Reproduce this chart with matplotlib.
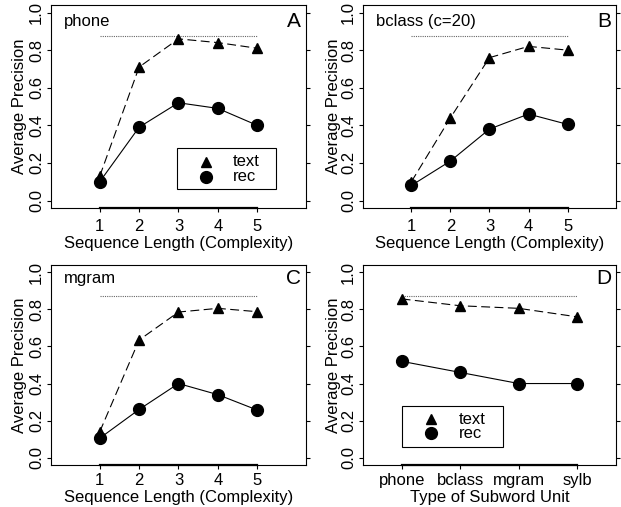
import numpy as np
import matplotlib.pyplot as plt
from matplotlib.lines import Line2D
from matplotlib.patches import Rectangle

plt.rcParams['font.family'] = ['Liberation Sans', 'DejaVu Sans']

seq_len = [1, 2, 3, 4, 5]

# panel A: phone
phone_text = [0.13, 0.71, 0.86, 0.84, 0.81]
phone_rec = [0.10, 0.39, 0.52, 0.49, 0.40]

# panel B: bclass (c=20)
bclass_text = [0.10, 0.44, 0.76, 0.82, 0.80]
bclass_rec = [0.08, 0.21, 0.38, 0.46, 0.405]

# panel C: mgram
mgram_text = [0.14, 0.635, 0.786, 0.806, 0.788]
mgram_rec = [0.105, 0.26, 0.40, 0.34, 0.257]

# panel D: best per subword unit
units = ['phone', 'bclass', 'mgram', 'sylb']
unit_text = [0.857, 0.82, 0.806, 0.76]
unit_rec = [0.52, 0.46, 0.40, 0.40]

ref_level = 0.873
yticks = [0.0, 0.2, 0.4, 0.6, 0.8, 1.0]
FS = 12


def style_axes(ax, xt, xlabels, xlabel, xpad, lpad, ylab_x):
    ax.set_ylim(-0.04, 1.04)
    ax.set_yticks(yticks)
    ax.set_yticklabels(['%.1f' % v for v in yticks], rotation=90, va='center', fontsize=FS)
    ax.set_xticks(xt)
    ax.set_xticklabels(xlabels, fontsize=FS)
    ax.tick_params(axis='both', direction='out', length=3, width=0.8,
                   right=True, labelright=False)
    ax.tick_params(axis='y', pad=2)
    ax.tick_params(axis='x', pad=xpad)
    ax.set_xlabel(xlabel, fontsize=FS, labelpad=lpad)
    ax.set_ylabel('Average Precision', fontsize=FS)
    ax.yaxis.set_label_coords(ylab_x, 0.5)
    for s in ax.spines.values():
        s.set_linewidth(0.8)
    # R style axis line along the tick range
    ax.plot([xt[0], xt[-1]], [-0.04, -0.04], color='black', lw=1.6, clip_on=False)


def draw_series(ax, x, text, rec):
    ax.plot([x[0], x[-1]], [ref_level, ref_level], color='#666666', linestyle=(0, (1, 1)), lw=0.8)
    ax.plot(x, text, color='black', linestyle=(0, (8, 4)), lw=0.8, marker='^', markersize=7.5)
    ax.plot(x, rec, color='black', linestyle='-', lw=0.8, marker='o', markersize=8.5)


def add_legend(ax, box, mx, tx, rows):
    ax.add_patch(Rectangle((box[0], box[1]), box[2] - box[0], box[3] - box[1],
                           transform=ax.transAxes, fill=False, edgecolor='black', lw=0.8))
    ax.add_line(Line2D([mx], [rows[0]], transform=ax.transAxes, color='black',
                       linestyle='none', marker='^', markersize=7.5))
    ax.add_line(Line2D([mx], [rows[1]], transform=ax.transAxes, color='black',
                       linestyle='none', marker='o', markersize=8.5))
    ax.text(tx, rows[0], 'text', transform=ax.transAxes, ha='left', va='center', fontsize=FS)
    ax.text(tx, rows[1], 'rec', transform=ax.transAxes, ha='left', va='center', fontsize=FS)


fig = plt.figure(figsize=(6.21, 5.07), dpi=100)

axA = fig.add_axes([0.0821, 0.5897, 0.4106, 0.4004])
axB = fig.add_axes([0.5845, 0.5897, 0.4074, 0.4004])
axC = fig.add_axes([0.0821, 0.0828, 0.4106, 0.3945])
axD = fig.add_axes([0.5845, 0.0828, 0.4074, 0.3945])

panels = [(axA, 'phone', 'A', phone_text, phone_rec, 5, 1, -0.094, 0.92),
          (axB, 'bclass (c=20)', 'B', bclass_text, bclass_rec, 5, 1, -0.087, 0.92),
          (axC, 'mgram', 'C', mgram_text, mgram_rec, 2.5, 1.5, -0.094, 0.935)]

for ax, name, letter, text, rec, xpad, lpad, ylx, ty in panels:
    draw_series(ax, seq_len, text, rec)
    ax.set_xlim(-0.24, 6.24)
    style_axes(ax, seq_len, [str(v) for v in seq_len], 'Sequence Length (Complexity)',
               xpad, lpad, ylx)
    ax.text(0.05, ty, name, transform=ax.transAxes, ha='left', va='center', fontsize=FS)
    ax.text(0.98, ty, letter, transform=ax.transAxes, ha='right', va='center', fontsize=15)

add_legend(axA, (0.494, 0.094, 0.882, 0.296), 0.608, 0.714, (0.227, 0.153))

xd = np.arange(1, len(units) + 1)
draw_series(axD, xd, unit_text, unit_rec)
axD.set_xlim(0.34, 4.66)
style_axes(axD, xd, units, 'Type of Subword Unit', 2.5, 1.5, -0.087)
axD.text(0.98, 0.935, 'D', transform=axD.transAxes, ha='right', va='center', fontsize=15)
add_legend(axD, (0.154, 0.09, 0.553, 0.295), 0.269, 0.379, (0.23, 0.16))

fig.savefig('out.png', dpi=100)
